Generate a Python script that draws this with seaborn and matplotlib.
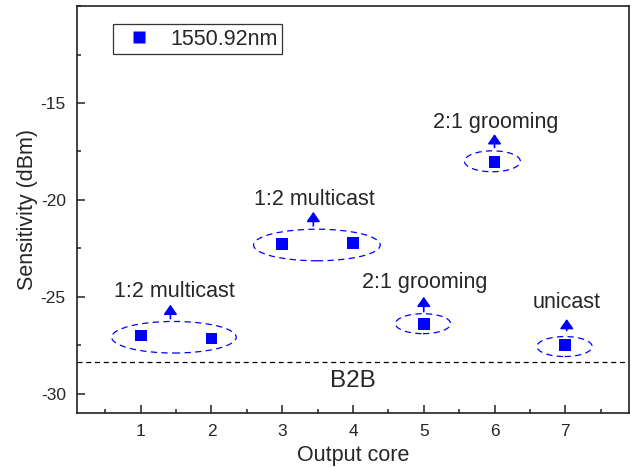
import matplotlib
matplotlib.use("Agg")
import matplotlib.pyplot as plt
from matplotlib.patches import Ellipse
from matplotlib.ticker import MultipleLocator
import seaborn as sns
import pandas as pd

# ---- data ----
cores = [1, 2, 3, 4, 5, 6, 7]
sensitivity = [-27.0, -27.15, -22.28, -22.23, -26.39, -18.03, -27.47]
series_label = "1550.92nm"
b2b_level = -28.35

group_labels = ["1:2 multicast", "1:2 multicast", "2:1 grooming", "2:1 grooming", "unicast"]
group_text_x = [1.47, 3.45, 5.02, 6.01, 7.02]
group_text_y = [-25.0, -20.26, -24.55, -16.27, -25.6]
arrow_x = [1.42, 3.44, 5.0, 6.0, 7.02]
arrow_base = [-26.13, -21.34, -25.77, -17.30, -26.75]
arrow_tip = [-25.41, -20.62, -25.0, -16.61, -26.15]
ell_cx = [1.47, 3.49, 4.99, 5.97, 6.99]
ell_cy = [-27.09, -22.33, -26.39, -18.01, -27.57]
ell_w = [1.76, 1.79, 0.78, 0.79, 0.78]
ell_h = [1.63, 1.63, 1.03, 1.08, 1.03]

x_ticks = [1, 2, 3, 4, 5, 6, 7]
y_ticks = [-30, -25, -20, -15]

sns.set_style("ticks")
plt.rcParams["font.family"] = ["Liberation Sans", "DejaVu Sans"]
plt.rcParams["axes.unicode_minus"] = False

df = pd.DataFrame({"core": cores, "sens": sensitivity, "series": series_label})

fig = plt.figure(figsize=(6.31, 4.68), dpi=100)
ax = fig.add_axes([0.122, 0.1175, 0.8748, 0.8695])

sns.scatterplot(data=df, x="core", y="sens", hue="series", palette=["#0000FF"],
                marker="s", s=72, edgecolor="none", ax=ax, zorder=3)

ax.axhline(b2b_level, color="black", lw=0.9, ls=(0, (4, 3)), zorder=1)
ax.text(4.0, -29.68, "B2B", fontsize=17.5, ha="center", va="baseline")

for lab, tx, ty in zip(group_labels, group_text_x, group_text_y):
    ax.text(tx, ty, lab, fontsize=15.5, ha="center", va="baseline")

for x, b, t in zip(arrow_x, arrow_base, arrow_tip):
    ax.annotate("", xy=(x, t), xytext=(x, b),
                arrowprops=dict(arrowstyle="-|>,head_length=0.4,head_width=0.28",
                                color="#0000FF", lw=1.2, mutation_scale=14.5,
                                shrinkA=0, shrinkB=0))

for cx, cy, w, h in zip(ell_cx, ell_cy, ell_w, ell_h):
    ax.add_patch(Ellipse((cx, cy), w, h, fill=False, edgecolor="#0000FF",
                         lw=0.9, ls=(0, (5, 3.5)), zorder=2))

ax.set_xlim(0.1, 7.9)
ax.set_ylim(-31, -10)
ax.set_xticks(x_ticks)
ax.set_yticks(y_ticks)
ax.xaxis.set_minor_locator(MultipleLocator(0.5))
ax.yaxis.set_minor_locator(MultipleLocator(2.5))
ax.tick_params(axis="both", which="major", direction="in", length=6, width=1.1,
               labelsize=12.5, pad=8, top=False, right=False, color="#222222")
ax.tick_params(axis="both", which="minor", direction="in", length=3, width=1.1,
               top=False, right=False, color="#222222")
for sp in ax.spines.values():
    sp.set_linewidth(1.2)
    sp.set_color("#222222")

ax.set_xlabel("Output core", fontsize=15.5, labelpad=4.5)
ax.set_ylabel("Sensitivity (dBm)", fontsize=15.5, labelpad=2)

leg = ax.legend(loc="upper left", bbox_to_anchor=(0.065, 0.956), borderaxespad=0,
                fontsize=15.5, frameon=True, fancybox=False, edgecolor="black",
                handletextpad=0.45, borderpad=0.22, markerscale=1.0)
leg.get_frame().set_linewidth(0.9)

fig.savefig("out.png", dpi=100)
